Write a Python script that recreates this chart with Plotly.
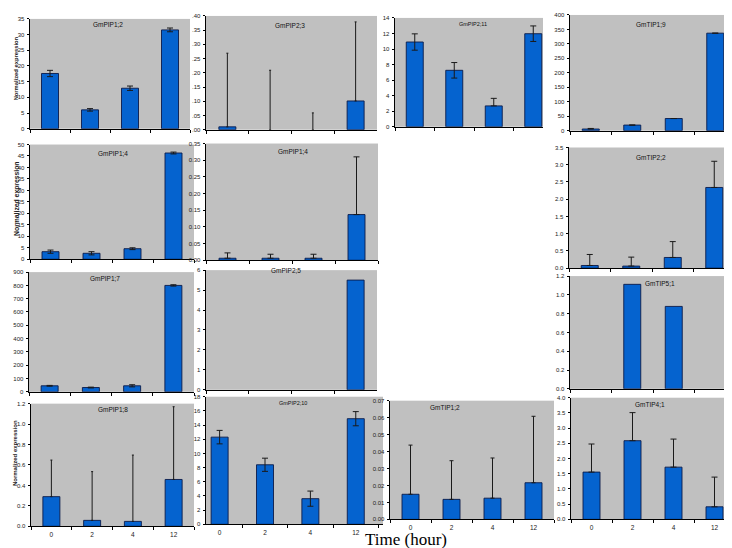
import numpy as np
import plotly.graph_objects as go

W, H = 732, 548

# ---------------- data ----------------
time = ["0", "2", "4", "12"]

pip1_2 = [17.6, 6.0, 12.9, 31.5]
pip1_2_err = [1.0, 0.4, 0.7, 0.6]

pip2_3 = [0.010, 0.0, 0.0, 0.101]
pip2_3_err = [0.259, 0.209, 0.059, 0.278]

pip2_11 = [10.9, 7.26, 2.68, 11.97]
pip2_11_err = [1.05, 1.0, 0.97, 1.0]

tip1_9 = [5.7, 19.4, 42.0, 337.0]
tip1_9_err = [2.0, 0.0, 0.0, 0.0]

pip1_4a = [3.3, 2.6, 4.6, 46.3]
pip1_4a_err = [0.7, 0.7, 0.4, 0.4]

pip1_4b = [0.006, 0.006, 0.006, 0.137]
pip1_4b_err = [0.016, 0.012, 0.012, 0.173]

tip2_2 = [0.077, 0.06, 0.31, 2.34]
tip2_2_err = [0.32, 0.26, 0.46, 0.76]

pip1_7 = [45, 32, 45, 800]
pip1_7_err = [3, 3, 8, 5]

pip2_5 = [0, 0, 0, 5.5]
pip2_5_err = [0, 0, 0, 0]

tip5_1 = [0, 1.112, 0.877, 0]
tip5_1_err = [0, 0, 0, 0]

pip1_8 = [0.29, 0.058, 0.048, 0.458]
pip1_8_err = [0.358, 0.477, 0.649, 0.712]

pip2_10 = [12.3, 8.4, 3.62, 14.9]
pip2_10_err = [0.95, 0.93, 1.07, 1.0]

tip1_2 = [0.0148, 0.0118, 0.0125, 0.0216]
tip1_2_err = [0.029, 0.0228, 0.0237, 0.0392]

tip4_1 = [1.554, 2.587, 1.717, 0.413]
tip4_1_err = [0.924, 0.923, 0.923, 0.977]

x_title = "Time (hour)"
y_title = "Normalized expression"

# ---------------- panel layout (pixels: left, right, top, bottom) ----------------
panels = [
    dict(t="GmPIP1;2", y=pip1_2, e=pip1_2_err, box=(22, 182, 8, 119), xr=(-0.5, 3.5), ymax=35, dt=5, fmt="{:.0f}", tpos=(100, 14), cap=3),
    dict(t="GmPIP2;3", y=pip2_3, e=pip2_3_err, box=(198, 369, 5, 120), xr=(-0.5, 3.5), ymax=0.40, dt=0.05, fmt="nolead", tpos=(282, 15), cap=1),
    dict(t="GmPIP2;11", y=pip2_11, e=pip2_11_err, box=(387, 535, 7, 117), xr=(-0.5, -0.5 + 4 * 148 / 158), ymax=14, dt=2, fmt="{:.0f}", tpos=(465, 13), cap=3),
    dict(t="GmTIP1;9", y=tip1_9, e=tip1_9_err, box=(562, 728, 4, 121), xr=(-0.5, 3.5), ymax=400, dt=50, fmt="{:.0f}", tpos=(643, 14), cap=3),
    dict(t="GmPIP1;4", y=pip1_4a, e=pip1_4a_err, box=(22, 186, 135, 251), xr=(-0.5, 3.5), ymax=50, dt=5, fmt="{:.0f}", tpos=(105, 144), cap=3),
    dict(t="GmPIP1;4", y=pip1_4b, e=pip1_4b_err, box=(198, 370, 134, 252), xr=(-0.5, 3.5), ymax=0.35, dt=0.05, fmt="{:.2f}", tpos=(285, 142), cap=3),
    dict(t="GmTIP2;2", y=tip2_2, e=tip2_2_err, box=(561, 727, 138, 260), xr=(-0.5, 3.5), ymax=3.5, dt=0.5, fmt="{:.1f}", tpos=(643, 148), cap=3),
    dict(t="GmPIP1;7", y=pip1_7, e=pip1_7_err, box=(21, 186, 264, 385), xr=(-0.5, 3.5), ymax=900, dt=100, fmt="{:.0f}", tpos=(97, 270), cap=3),
    dict(t="GmPIP2;5", y=pip2_5, e=pip2_5_err, box=(198, 369, 262, 383), xr=(-0.5, 3.5), ymax=6, dt=1, fmt="{:.0f}", tpos=(278, 262), cap=3),
    dict(t="GmTIP5;1", y=tip5_1, e=tip5_1_err, box=(562, 728, 268, 382), xr=(-0.5, 3.5), ymax=1.2, dt=0.2, fmt="{:.1f}", tpos=(652, 276), cap=3),
    dict(t="GmPIP1;8", y=pip1_8, e=pip1_8_err, box=(23, 186, 397, 521), xr=(-0.5, 3.5), ymax=1.2, dt=0.2, fmt="{:.1f}", tpos=(105, 403), cap=1, xl=True),
    dict(t="GmPIP2;10", y=pip2_10, e=pip2_10_err, box=(198, 375, 390, 519), xr=(-0.3, 3.6), ymax=18, dt=2, fmt="{:.0f}", tpos=(285, 396), cap=3, xl=True),
    dict(t="GmTIP1;2", y=tip1_2, e=tip1_2_err, box=(382, 546, 394, 514), xr=(-0.5, 3.5), ymax=0.07, dt=0.01, fmt="{:.2f}", tpos=(437, 401), cap=2, xl=True),
    dict(t="GmTIP4;1", y=tip4_1, e=tip4_1_err, box=(563, 727, 391, 514), xr=(-0.5, 3.5), ymax=4.0, dt=0.5, fmt="{:.1f}", tpos=(642, 398), cap=3, xl=True),
]

fig = go.Figure()
annotations = []
layout = {}
tickfont = dict(family="Liberation Sans, Arial", size=6, color="#222")

for i, p in enumerate(panels, start=1):
    L, R, T, B = p["box"]
    xa = f"x{i}" if i > 1 else "x"
    ya = f"y{i}" if i > 1 else "y"
    catpx = (R - L) / (p["xr"][1] - p["xr"][0])
    bw = 17.0 / catpx
    plus = list(p["e"])
    minus = [e if (e < 0.3 * v) else 0 for e, v in zip(p["e"], p["y"])]
    has_err = any(e > 0 for e in p["e"])
    outline = [0.9 if v > 0 else 0 for v in p["y"]]
    fig.add_trace(go.Bar(
        x=time, y=p["y"], xaxis=xa, yaxis=ya, width=bw,
        marker=dict(color="#0563CF", line=dict(color="#0B1B4A", width=outline)),
        error_y=dict(type="data", array=plus, arrayminus=minus, symmetric=False,
                     color="#1a1a1a", thickness=1, width=p["cap"], visible=has_err),
        showlegend=False, hoverinfo="skip",
    ))
    vals = np.round(np.arange(0, p["ymax"] + p["dt"] / 2, p["dt"]), 6)
    if p["fmt"] == "nolead":
        txt = [("{:.2f}".format(v))[1:] for v in vals]
    else:
        txt = [p["fmt"].format(v) for v in vals]
    kx = "xaxis" + (str(i) if i > 1 else "")
    ky = "yaxis" + (str(i) if i > 1 else "")
    layout[kx] = dict(
        domain=[L / W, R / W], anchor=ya, type="category", range=list(p["xr"]),
        tickson="boundaries", ticks="outside", ticklen=3, tickcolor="#000", tickwidth=0.8,
        showline=True, linecolor="#000", linewidth=0.9, showgrid=False, zeroline=False,
        showticklabels=p.get("xl", False), tickfont=dict(family="Liberation Sans, Arial", size=6.5, color="#222"),
        ticklabelstandoff=2, fixedrange=True,
    )
    layout[ky] = dict(
        domain=[1 - B / H, 1 - T / H], anchor=xa, range=[0, p["ymax"]],
        tickvals=list(vals), ticktext=txt, ticks="outside", ticklen=2.5,
        tickcolor="#000", tickwidth=0.8, showline=True, linecolor="#000", linewidth=0.9,
        showgrid=False, zeroline=False, tickfont=tickfont, ticklabelstandoff=1, fixedrange=True,
    )
    tx, ty = p["tpos"]
    annotations.append(dict(
        x=tx / W, y=1 - ty / H, xref="paper", yref="paper", text=p["t"], showarrow=False,
        font=dict(family="Liberation Sans, Arial", size=6.5 if len(p["t"]) < 9 else 5.5, color="#111"),
        xanchor="center", yanchor="middle",
    ))

for (yx, yy, fs) in [(8, 58, 5.8), (9, 190, 6.8), (7, 447, 6.0)]:
    annotations.append(dict(
        x=yx / W, y=1 - yy / H, xref="paper", yref="paper", text=f"<b>{y_title}</b>",
        showarrow=False, textangle=-90, font=dict(family="Liberation Sans, Arial", size=fs, color="#222"),
        xanchor="center", yanchor="middle",
    ))

annotations.append(dict(
    x=398 / W, y=1 - 534 / H, xref="paper", yref="paper", text=x_title, showarrow=False,
    font=dict(family="Liberation Serif, Times New Roman", size=17, color="#000"),
    xanchor="center", yanchor="middle", borderpad=0,
))

fig.update_layout(
    width=W, height=H, margin=dict(l=0, r=0, t=0, b=0),
    paper_bgcolor="white", plot_bgcolor="#C0C0C0",
    annotations=annotations, **layout,
)

fig.write_html("out.html", config={"displayModeBar": False})
